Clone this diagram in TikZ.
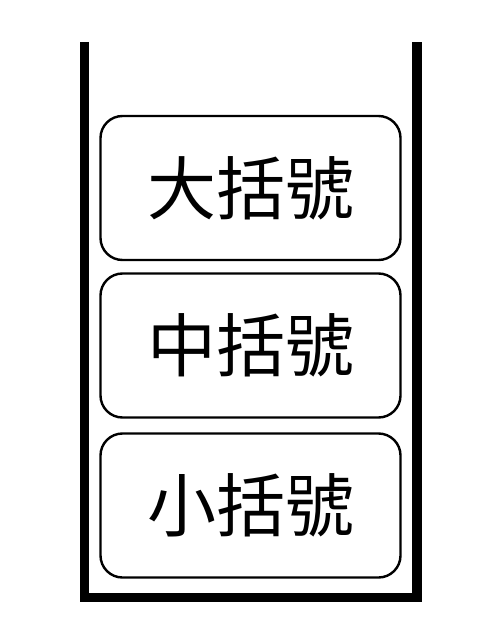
\documentclass[tikz,border=0pt]{standalone}
\usepackage{fontspec}
\newfontfamily\cjk{Noto Sans CJK TC}
\begin{document}
\begin{tikzpicture}[x=1pt,y=-1pt,
  itembox/.style={draw=black,line width=2.4pt,rounded corners=22pt,minimum width=300pt,minimum height=144pt,inner sep=0pt,font=\cjk\fontsize{69}{69}\selectfont},
  wall/.style={line width=9.5pt}]
\useasboundingbox (0,0) rectangle (503,620);
\fill[white] (0,0) rectangle (503,620);
\coordinate (tl) at (84.5,42);
\coordinate (tr) at (417,42);
\draw[wall,line join=miter] (tl) |- (250,597.5) -| (tr);
\node[itembox] (big) at (250.5,188) {大括號};
\node[itembox] (mid) at (250.5,345.5) {中括號};
\node[itembox] (small) at (250.5,505.5) {小括號};
\end{tikzpicture}
\end{document}
